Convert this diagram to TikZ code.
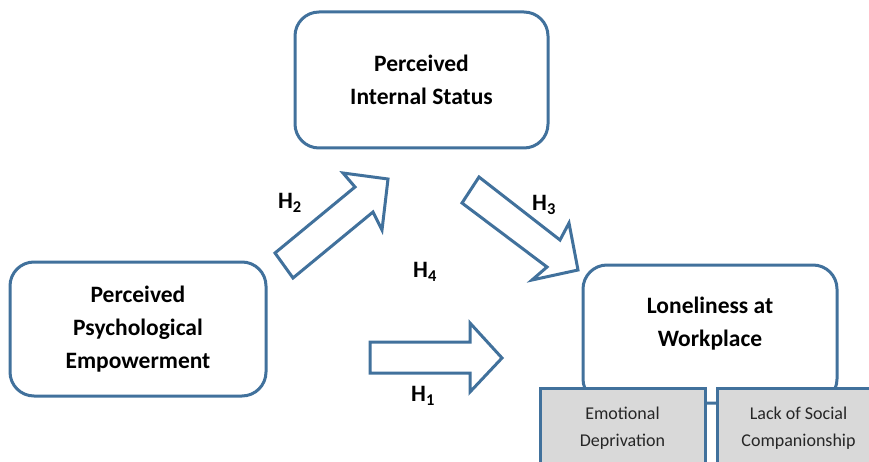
\documentclass[tikz,border=0pt]{standalone}
\usepackage{fontspec}
\setmainfont{Carlito}
\definecolor{bl}{RGB}{65,113,156}
\definecolor{gr}{RGB}{217,217,217}
\begin{document}
\begin{tikzpicture}[x=1pt,y=-1pt,
 box/.style={draw=bl,line width=3pt,rounded corners=24pt,fill=white},
 sub/.style={draw=bl,line width=3pt,fill=gr,font=\fontsize{18}{27}\selectfont,text=black!85,align=center},
 blk/.style={draw=bl,line width=3pt,line join=miter,fill=white},
 lab/.style={font=\fontsize{23.5}{33}\selectfont\bfseries,align=center,text=black},
 hl/.style={font=\fontsize{23.5}{26}\selectfont\bfseries,text=black}]
\clip (0,0) rectangle (869,462);
\node[box,lab,minimum width=253pt,minimum height=136pt] (pis) at (421.5,80) {Perceived\\Internal Status};
\node[box,lab,minimum width=256pt,minimum height=134pt] (ppe) at (138,329) {Perceived\\Psychological\\Empowerment};
\node[box,minimum width=254pt,minimum height=138pt] (lw) at (710,334) {};
\node[lab] (lwt) at (710,324) {Loneliness at\\Workplace};
\node[sub,minimum width=165pt,minimum height=80pt] (ed) at (622.5,428) {Emotional\\Deprivation};
\node[sub,minimum width=163pt,minimum height=80pt] (lsc) at (798.5,428) {Lack of Social\\Companionship};
% block arrows
\draw[blk] (275,253) -- (355,187) -- (343,173) -- (388,179) -- (382,230) -- (373,212) -- (293,278) -- cycle;
\draw[blk] (479,177) -- (560,240) -- (569,223) -- (578,270) -- (532,280) -- (547,267) -- (462,203) -- cycle;
\draw[blk] (370,342) -- (470,342) -- (470,323) -- (502,358) -- (470,392) -- (470,373) -- (370,373) -- cycle;
\node[hl] (h2) at (290,203) {H\textsubscript{2}};
\node[hl] (h3) at (544,205) {H\textsubscript{3}};
\node[hl] (h4) at (425,272) {H\textsubscript{4}};
\node[hl] (h1) at (423,396) {H\textsubscript{1}};
\end{tikzpicture}
\end{document}
